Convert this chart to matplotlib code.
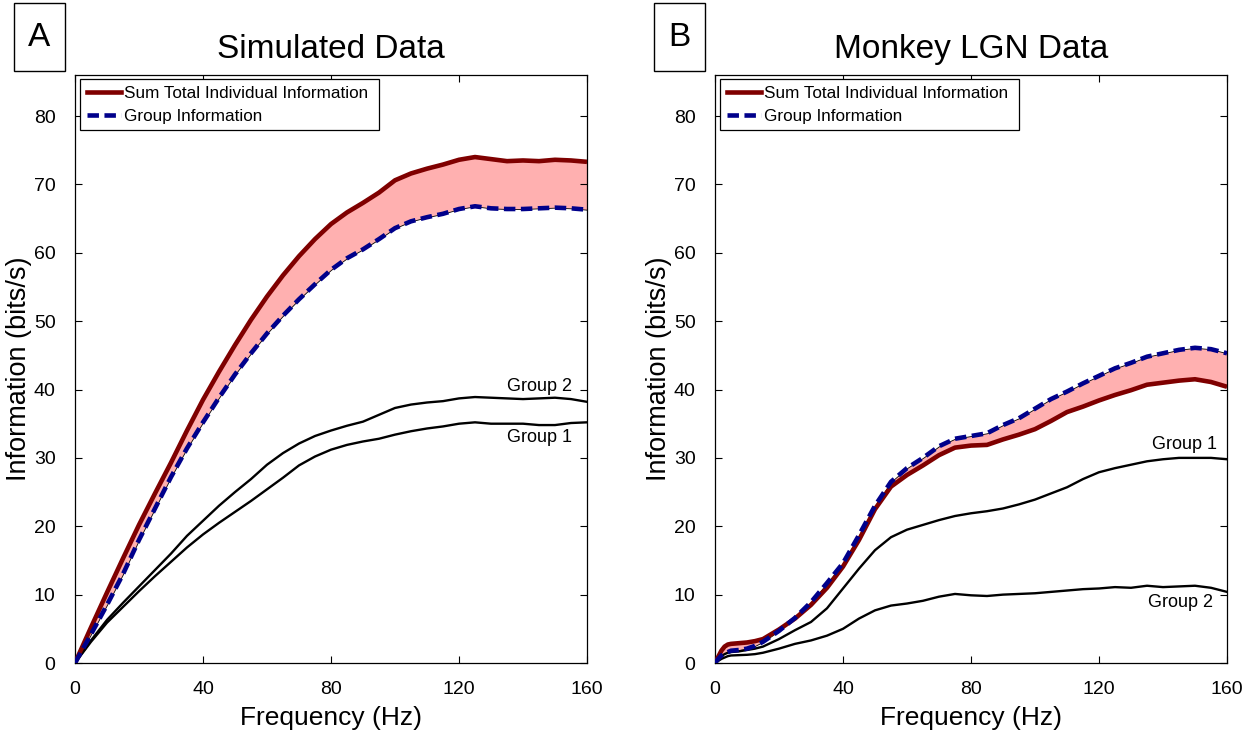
import matplotlib
matplotlib.use("Agg")
import matplotlib.pyplot as plt
from matplotlib.patches import Rectangle
from matplotlib.lines import Line2D

plt.rcParams['font.family'] = ['Liberation Sans', 'DejaVu Sans']

# ---------------- Panel A: Simulated data ----------------
freq_a = [0, 5, 10, 15, 20, 25, 30, 35, 40, 45, 50, 55, 60, 65, 70, 75, 80, 85, 90, 95,
          100, 105, 110, 115, 120, 125, 130, 135, 140, 145, 150, 155, 160]
sum_a = [0, 5.2, 10.3, 15.3, 20.2, 24.8, 29.3, 34.0, 38.5, 42.6, 46.5, 50.2, 53.6, 56.7,
         59.5, 62.0, 64.2, 65.9, 67.3, 68.8, 70.6, 71.6, 72.3, 72.9, 73.6, 74.0, 73.7,
         73.4, 73.5, 73.4, 73.6, 73.5, 73.3]
group_a = [0, 4.2, 8.5, 13.0, 18.0, 22.6, 27.2, 31.4, 35.2, 38.8, 42.2, 45.3, 48.2, 50.8,
           53.2, 55.4, 57.5, 59.2, 60.5, 62.0, 63.6, 64.6, 65.2, 65.7, 66.4, 66.8, 66.5,
           66.4, 66.4, 66.5, 66.6, 66.5, 66.3]
g2_a = [0, 3.3, 6.3, 8.8, 11.2, 13.6, 16.0, 18.6, 20.8, 23.0, 25.0, 26.9, 29.0, 30.7,
        32.1, 33.2, 34.0, 34.7, 35.3, 36.3, 37.3, 37.8, 38.1, 38.3, 38.7, 38.9, 38.8,
        38.7, 38.6, 38.7, 38.8, 38.6, 38.2]
g1_a = [0, 3.1, 5.9, 8.2, 10.5, 12.7, 14.8, 16.9, 18.8, 20.5, 22.1, 23.7, 25.4, 27.1,
        28.9, 30.2, 31.2, 31.9, 32.4, 32.8, 33.4, 33.9, 34.3, 34.6, 35.0, 35.2, 35.0,
        35.0, 35.0, 34.8, 34.8, 35.1, 35.2]

# ---------------- Panel B: Monkey LGN data ----------------
freq_b = [0, 1, 2, 3, 4, 5, 7.5, 10, 12.5, 15, 20, 25, 30, 35, 40, 45, 50, 55, 60, 65, 70,
          75, 80, 85, 90, 95, 100, 105, 110, 115, 120, 125, 130, 135, 140, 145, 150, 155, 160]
sum_b = [0, 0.9, 1.8, 2.4, 2.7, 2.8, 2.9, 3.0, 3.2, 3.5, 4.9, 6.5, 8.5, 11.0, 14.1, 18.0,
         22.5, 25.8, 27.5, 28.9, 30.4, 31.5, 31.8, 31.9, 32.7, 33.4, 34.2, 35.4, 36.7,
         37.5, 38.4, 39.2, 39.9, 40.7, 41.0, 41.3, 41.5, 41.1, 40.4]
group_b = [0, 0.6, 1.1, 1.4, 1.6, 1.8, 1.9, 2.1, 2.5, 3.1, 4.7, 6.6, 8.9, 11.7, 14.6, 18.7,
           23.0, 26.5, 28.5, 30.0, 31.7, 32.8, 33.2, 33.6, 34.8, 35.8, 37.2, 38.6, 39.7,
           40.9, 42.0, 43.1, 43.9, 44.8, 45.3, 45.8, 46.1, 45.9, 45.3]
g1_b = [0, 0.5, 1.0, 1.3, 1.5, 1.6, 1.7, 1.9, 2.1, 2.4, 3.5, 4.8, 6.0, 8.0, 10.9, 13.8,
        16.5, 18.4, 19.5, 20.2, 20.9, 21.5, 21.9, 22.2, 22.6, 23.2, 23.9, 24.8, 25.7,
        26.9, 27.9, 28.5, 29.0, 29.5, 29.8, 30.0, 30.0, 30.0, 29.8]
g2_b = [0, 0.3, 0.6, 0.8, 1.0, 1.1, 1.15, 1.2, 1.3, 1.5, 2.1, 2.8, 3.3, 4.0, 5.0, 6.5,
        7.7, 8.4, 8.7, 9.1, 9.7, 10.1, 9.9, 9.8, 10.0, 10.1, 10.2, 10.4, 10.6, 10.8,
        10.9, 11.1, 11.0, 11.3, 11.1, 11.2, 11.3, 11.0, 10.4]

x_ticks = [0, 40, 80, 120, 160]
y_ticks = [0, 10, 20, 30, 40, 50, 60, 70, 80]
titles = ["Simulated Data", "Monkey LGN Data"]
panel_labels = ["A", "B"]
legend_labels = ["Sum Total Individual Information", "Group Information"]

RED = "#7f0000"
BLUE = "#00008b"
PINK = "#ffb0b0"

W, H = 1251, 734
fig = plt.figure(figsize=(W / 100, H / 100), dpi=100)

def fx(px):
    return px / W

def fy(py):
    return 1 - py / H

axes_px = [(75, 587), (715, 1227)]
top_px, bot_px = 75, 663
ax_h = bot_px - top_px

panels = [
    (freq_a, sum_a, group_a, [(g2_a, "Group 2", 155.3, 40.5), (g1_a, "Group 1", 155.3, 33.0)]),
    (freq_b, sum_b, group_b, [(g1_b, "Group 1", 156.9, 31.9), (g2_b, "Group 2", 155.6, 8.8)]),
]

for i, (freq, s, g, groups) in enumerate(panels):
    l, r = axes_px[i]
    ax = fig.add_axes([fx(l), fy(bot_px), fx(r - l), ax_h / H])
    ax.fill_between(freq, g, s, facecolor=PINK, edgecolor="black", linewidth=0.6, zorder=1)
    for gv, name, tx, ty in groups:
        ax.plot(freq, gv, color="black", lw=1.7, zorder=2)
        ax.text(tx, ty, name, ha="right", va="center", fontsize=13)
    ax.plot(freq, s, color=RED, lw=3.3, zorder=3, solid_capstyle="butt")
    ax.plot(freq, g, color=BLUE, lw=3.3, zorder=4, linestyle=(0, (2.5, 1.2)))
    ax.set_xlim(0, 160)
    ax.set_ylim(0, 86)
    ax.set_xticks(x_ticks)
    ax.set_yticks(y_ticks)
    ax.tick_params(direction="in", top=True, right=True, length=5, width=0.8, labelsize=14)
    ax.tick_params(axis="x", pad=13)
    ax.tick_params(axis="y", pad=14)
    for sp in ax.spines.values():
        sp.set_linewidth(0.9)
        sp.set_color("black")
    ax.set_xlabel("Frequency (Hz)", fontsize=19, labelpad=6)
    ax.set_ylabel("Information (bits/s)", fontsize=19.5, labelpad=1)
    ax.set_title(titles[i], fontsize=24, pad=12)
    handles = [Line2D([], [], color=RED, lw=3.3),
               Line2D([], [], color=BLUE, lw=3.3, linestyle=(0, (2.5, 1.2)))]
    leg_w = 299 / (r - l)
    leg_h = 48 / ax_h
    leg_top = 1 - 4 / ax_h
    leg = ax.legend(handles, legend_labels, loc="upper left",
                    bbox_to_anchor=(5 / (r - l), leg_top - leg_h, leg_w, leg_h),
                    mode="expand", borderaxespad=0,
                    fontsize=12.3, fancybox=False, framealpha=1, edgecolor="black",
                    handlelength=2.0, handletextpad=0.2, labelspacing=0.45,
                    borderpad=0.4)
    leg.get_frame().set_linewidth(0.9)

    # panel label box
    bx0 = l - 61
    fig.add_artist(Rectangle((fx(bx0), fy(71)), fx(51), 68 / H, transform=fig.transFigure,
                             fill=False, edgecolor="black", lw=1.0))
    fig.text(fx(bx0 + 25.5), fy(38), panel_labels[i], ha="center", va="center", fontsize=24)

fig.savefig("out.png", dpi=100)
